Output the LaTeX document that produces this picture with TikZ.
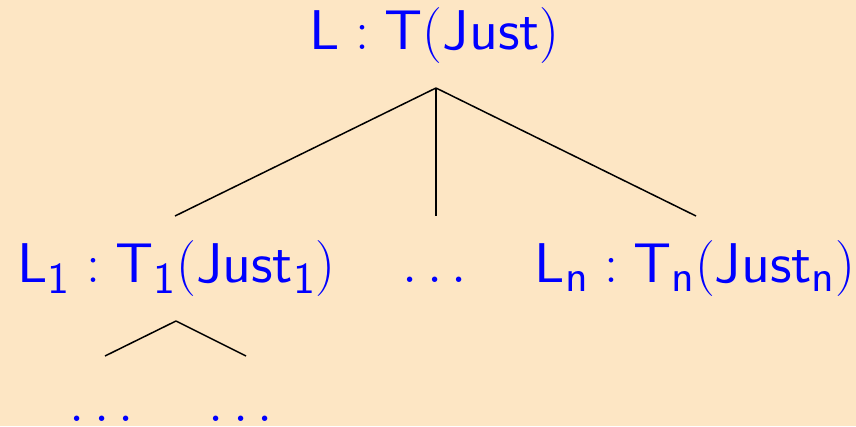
\RequirePackage{fix-cm}
\documentclass[tikz,border=0pt]{standalone}
\usepackage{fontspec}
\setsansfont{lmsans10-regular.otf}
\DeclareMathSizes{56}{56}{44}{30}
\begin{document}
\begin{tikzpicture}[x=1pt,y=1pt,
  lbl/.style={text=blue,anchor=base,inner sep=0pt,font=\fontsize{56}{66}\selectfont},
  edge/.style={draw=black,line width=1.5pt}]
\definecolor{bg}{RGB}{253,230,196}
\fill[bg] (0,0) rectangle (856,426);
\useasboundingbox (0,0) rectangle (856,426);
\begin{scope}
\clip (0,0) rectangle (856,426);
\node[lbl] (top) at (434.5,376) {$\mathsf{L}:\mathsf{T}(\mathsf{Just})$};
\node[lbl] (c1) at (176.5,143) {$\mathsf{L}_{\mathsf{1}}:\mathsf{T}_{\mathsf{1}}(\mathsf{Just}_{\mathsf{1}})$};
\node[lbl] (cm) at (435,143) {$\ldots$};
\node[lbl] (cn) at (695,143) {$\mathsf{L}_{\mathsf{n}}:\mathsf{T}_{\mathsf{n}}(\mathsf{Just}_{\mathsf{n}})$};
\node[lbl] (g1) at (102,5) {$\ldots$};
\node[lbl] (g2) at (241,5) {$\ldots$};
\coordinate (r) at (436,338);
\coordinate (e1) at (175,210);
\coordinate (em) at (436,210);
\coordinate (en) at (696,210);
\coordinate (s) at (176,105);
\coordinate (f1) at (105,70);
\coordinate (f2) at (246,70);
\draw[edge] (r) -- (e1);
\draw[edge] (r) -- (em);
\draw[edge] (r) -- (en);
\draw[edge] (s) -- (f1);
\draw[edge] (s) -- (f2);
\end{scope}
\end{tikzpicture}
\end{document}
